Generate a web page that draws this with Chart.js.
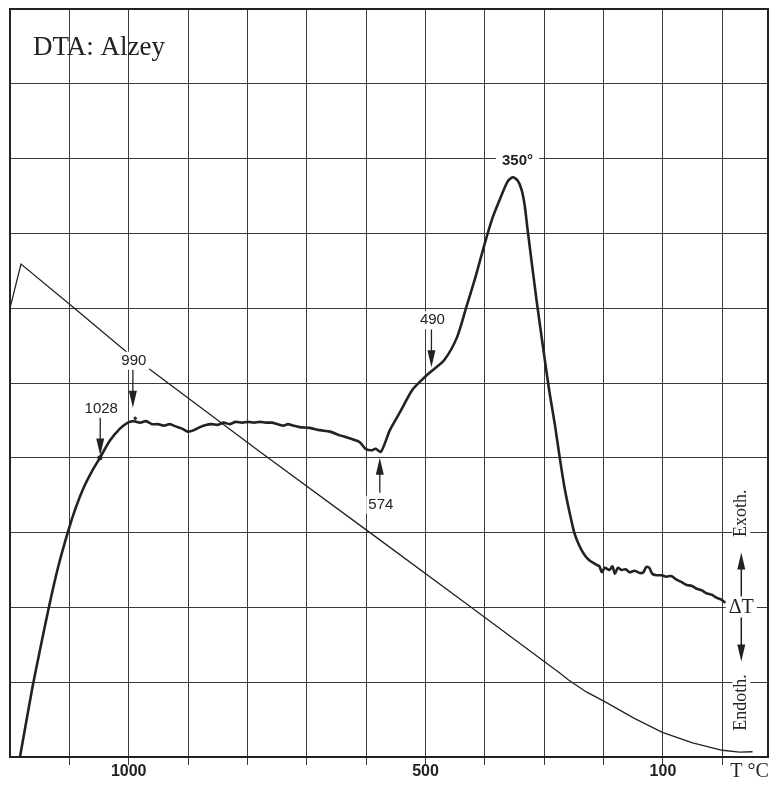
<!DOCTYPE html>
<html>
<head>
<meta charset="utf-8">
<script src="https://cdn.jsdelivr.net/npm/chart.js@4"></script>
<style>
  html, body { margin: 0; padding: 0; background: #fff; }
  #wrap { width: 771px; height: 786px; }
</style>
</head>
<body>
<div id="wrap"><canvas id="dta"></canvas></div>
<script>
// x = time in grid divisions, y = deflection in grid divisions
const tempX = [0, 0.185, 1.04, 1.97, 4.21, 6.03, 7.74, 9.25, 9.41, 9.71, 10.02, 10.51, 10.99, 11.50, 12.0, 12.29, 12.51];
const tempY = [6.00, 6.59, 6.03, 5.41, 4.08, 3.02, 2.02, 1.13, 1.03, 0.87, 0.74, 0.52, 0.33, 0.19, 0.09, 0.065, 0.07];

const dtaX = [0.168, 0.37, 0.505, 0.657, 0.808, 0.976, 1.111, 1.246, 1.38, 1.515, 1.684, 1.852, 1.987, 2.088,
  2.19, 2.29, 2.39, 2.49, 2.59, 2.69, 2.79, 2.90, 3.00, 3.10, 3.20, 3.30, 3.40, 3.50,
  3.60, 3.70, 3.80, 3.91, 4.01, 4.11, 4.21, 4.31, 4.41, 4.51, 4.61, 4.68, 4.78, 4.88,
  5.05, 5.22, 5.39, 5.56, 5.72, 5.89, 5.99, 6.09, 6.16, 6.25,
  6.40, 6.57, 6.78, 6.99, 7.12, 7.32, 7.53, 7.69, 7.85, 8.00, 8.13, 8.25, 8.38, 8.47,
  8.55, 8.62, 8.67, 8.72, 8.87, 9.01, 9.09, 9.18, 9.26, 9.34, 9.43, 9.51, 9.60, 9.68,
  9.76, 9.88, 9.93, 9.97, 10.02, 10.10, 10.15, 10.19, 10.24, 10.30, 10.37, 10.44,
  10.52, 10.61, 10.67, 10.72, 10.77, 10.82, 10.89, 10.98, 11.06, 11.14, 11.23, 11.31,
  11.40, 11.48, 11.57, 11.65, 11.73, 11.82, 11.90, 11.97, 12.04];
const dtaY = [0, 0.896, 1.43, 2.01, 2.53, 3.01, 3.34, 3.61, 3.82, 4.00, 4.23, 4.39, 4.47, 4.49,
  4.47, 4.49, 4.45, 4.45, 4.43, 4.45, 4.42, 4.39, 4.35, 4.37, 4.41, 4.44, 4.45, 4.44,
  4.47, 4.45, 4.48, 4.47, 4.48, 4.47, 4.48, 4.47, 4.47, 4.45, 4.43, 4.45, 4.43, 4.41,
  4.40, 4.37, 4.35, 4.30, 4.26, 4.21, 4.12, 4.10, 4.12, 4.08,
  4.37, 4.61, 4.91, 5.08, 5.17, 5.31, 5.61, 6.02, 6.44, 6.87, 7.21, 7.45, 7.69, 7.75,
  7.71, 7.58, 7.38, 7.05, 6.11, 5.31, 4.87, 4.44, 4.01, 3.61, 3.26, 2.99, 2.81, 2.70,
  2.63, 2.57, 2.55, 2.47, 2.53, 2.50, 2.55, 2.45, 2.53, 2.50, 2.51, 2.47,
  2.49, 2.46, 2.47, 2.54, 2.53, 2.45, 2.43, 2.43, 2.41, 2.42, 2.37, 2.34,
  2.30, 2.29, 2.25, 2.23, 2.19, 2.17, 2.13, 2.11, 2.07];

const gridX = [1, 2, 3, 4, 5, 6, 7, 8, 9, 10, 11, 12];
const gridY = [1, 2, 3, 4, 5, 6, 7, 8, 9];
const tickValues = [2, 7, 11];
const tickLabels = ['1000', '500', '100'];

// marked reactions: label, x, arrow tip y, arrow direction
const markLabels = ['1028', '990', '574', '490'];
const markX = [1.52, 2.07, 6.23, 7.10];
const markTipY = [4.03, 4.67, 4.00, 5.21];
const markUp = [false, false, true, false];
const peakLabel = '350°';
const peakX = 8.55, peakY = 7.97;

const ink = '#222';
const serif = '"Liberation Serif", "DejaVu Serif", serif';
const sans = '"Liberation Sans", Arial, sans-serif';

function arrow(ctx, px, y0, y1) {
  const dir = Math.sign(y1 - y0);
  ctx.beginPath();
  ctx.moveTo(px, y0);
  ctx.lineTo(px, y1 - dir * 12);
  ctx.stroke();
  ctx.beginPath();
  ctx.moveTo(px, y1);
  ctx.lineTo(px - 4, y1 - dir * 17);
  ctx.lineTo(px + 4, y1 - dir * 17);
  ctx.closePath();
  ctx.fill();
}

function boxText(ctx, text, px, py, pad) {
  const w = ctx.measureText(text).width;
  ctx.fillStyle = '#fff';
  ctx.fillRect(px - w / 2 - pad, py - 9, w + pad * 2, 18);
  ctx.fillStyle = ink;
  ctx.fillText(text, px, py);
}

const decor = {
  id: 'decor',
  afterDatasetsDraw(chart) {
    const { ctx, chartArea: a, scales: { x, y } } = chart;
    ctx.save();
    ctx.strokeStyle = ink;
    ctx.fillStyle = ink;
    ctx.lineWidth = 2;
    ctx.strokeRect(a.left, a.top, a.right - a.left, a.bottom - a.top);

    // title
    ctx.font = '27px ' + serif;
    ctx.textAlign = 'left';
    ctx.textBaseline = 'alphabetic';
    ctx.fillText('DTA: Alzey', 33, 55);

    // reaction markers
    ctx.lineWidth = 1.3;
    ctx.textAlign = 'center';
    ctx.textBaseline = 'middle';
    ctx.font = '15px ' + sans;
    markLabels.forEach((t, i) => {
      const px = x.getPixelForValue(markX[i]);
      const tip = y.getPixelForValue(markTipY[i]);
      if (markUp[i]) {
        arrow(ctx, px, tip + 35, tip);
        boxText(ctx, t, px + 1, tip + 47, 2);
      } else {
        arrow(ctx, px, tip - 38, tip);
        boxText(ctx, t, px + 1, tip - 47, 3);
      }
    });
    // dots at 1028 and 990
    ctx.beginPath();
    ctx.arc(x.getPixelForValue(1.515), y.getPixelForValue(4.0), 2.5, 0, Math.PI * 2);
    ctx.fill();
    ctx.beginPath();
    ctx.arc(x.getPixelForValue(2.11), y.getPixelForValue(4.53), 1.6, 0, Math.PI * 2);
    ctx.fill();

    ctx.font = 'bold 15px ' + sans;
    boxText(ctx, peakLabel, x.getPixelForValue(peakX), y.getPixelForValue(peakY), 6);

    // axis labels
    ctx.font = 'bold 16px ' + sans;
    tickValues.forEach((v, i) => {
      ctx.fillText(tickLabels[i], x.getPixelForValue(v), a.bottom + 15);
    });
    ctx.font = '20px ' + serif;
    ctx.fillText('T °C', x.getPixelForValue(12.46), a.bottom + 15);

    // delta T legend on the right
    const rx = x.getPixelForValue(12.32);
    ctx.font = '20px ' + serif;
    boxText(ctx, 'ΔT', rx, y.getPixelForValue(2), 3);
    ctx.lineWidth = 1.5;
    arrow(ctx, rx, y.getPixelForValue(2) - 11, y.getPixelForValue(2) - 55);
    arrow(ctx, rx, y.getPixelForValue(2) + 10, y.getPixelForValue(2) + 54);
    ctx.font = '18px ' + serif;
    [['Exoth.', 3.26], ['Endoth.', 0.73]].forEach(([t, v]) => {
      ctx.save();
      ctx.translate(rx, y.getPixelForValue(v));
      ctx.rotate(-Math.PI / 2);
      boxText(ctx, t, 0, 0, 3);
      ctx.restore();
    });
    ctx.restore();
  }
};

new Chart(document.getElementById('dta'), {
  type: 'line',
  data: {
    datasets: [
      {
        label: 'T',
        data: tempX.map((v, i) => ({ x: v, y: tempY[i] })),
        borderColor: ink,
        borderWidth: 1.3,
        pointRadius: 0,
        tension: 0
      },
      {
        label: 'DTA',
        data: dtaX.map((v, i) => ({ x: v, y: dtaY[i] })),
        borderColor: ink,
        borderWidth: 2.6,
        pointRadius: 0,
        tension: 0.25,
        borderJoinStyle: 'round',
        borderCapStyle: 'round'
      }
    ]
  },
  options: {
    responsive: true,
    maintainAspectRatio: false,
    animation: false,
    layout: { padding: { left: 10, top: 9, right: 3, bottom: 21 } },
    plugins: { legend: { display: false }, tooltip: { enabled: false } },
    scales: {
      x: {
        type: 'linear',
        min: 0,
        max: 12.77,
        afterBuildTicks: s => { s.ticks = gridX.map(v => ({ value: v })); },
        ticks: { display: false },
        grid: { color: '#3a3a3a', lineWidth: 1, tickLength: 8, drawTicks: true },
        border: { display: false }
      },
      y: {
        min: 0,
        max: 10,
        afterBuildTicks: s => { s.ticks = gridY.map(v => ({ value: v })); },
        ticks: { display: false },
        grid: { color: '#3a3a3a', lineWidth: 1, drawTicks: false },
        border: { display: false }
      }
    }
  },
  plugins: [decor]
});
</script>
</body>
</html>
